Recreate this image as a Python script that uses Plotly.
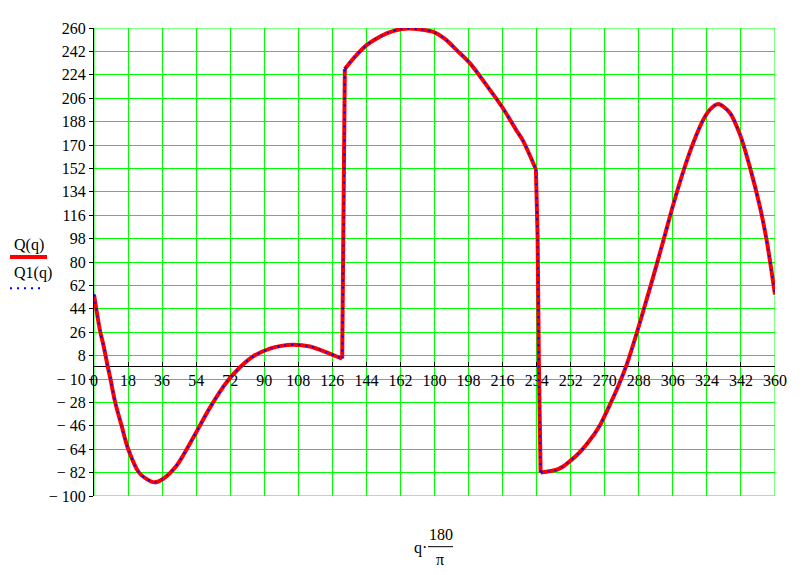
import plotly.graph_objects as go

# Curve (x in degrees: q*180/pi)
q_deg = [0, 3.2, 5, 7.2, 8.7, 11.2, 14.6, 18.1, 23.8, 27.9, 32, 36.6, 43.7, 52.5, 61.3,
         70.1, 77.2, 84.2, 93, 99, 105.4, 114.2, 123, 128, 131.2, 132, 132.6, 138, 144.1,
         149, 154.7, 160, 166, 172, 179.4, 186, 191.7, 198.8, 207, 215.5, 223.4, 226.9,
         233.6, 234.5, 235.2, 236.1, 244.6, 248, 251.6, 256, 261.3, 267.5, 272, 277,
         281.6, 286.9, 291.3, 295.7, 301, 306.3, 311.6, 316.8, 322.1, 325.6, 330, 336.2,
         341.5, 346.8, 352.1, 355.6, 360]
Q_vals = [55, 27, 16, 0, -10, -28, -46, -64, -82, -87, -89.5, -86.7, -76.5, -55, -32,
          -12.5, -1, 7.5, 13.4, 15.5, 16.4, 15, 10.5, 7.5, 5.7, 100, 228.5, 238, 246.8,
          251.5, 255.8, 258.5, 259.6, 259, 257, 251, 243, 232.8, 217, 199.8, 181, 173,
          151.3, 100, 0, -82, -79.8, -77.3, -73.2, -67.5, -58.7, -45.5, -32, -16,
          1, 25.3, 47, 69, 96.6, 124.6, 150, 171.7, 189.5, 197.2, 201.5, 194.7,
          178, 152.6, 122, 96.6, 55]
Q1_vals = list(Q_vals)

x_ticks = list(range(0, 361, 18))
y_ticks = list(range(-100, 261, 18))
y_ticktext = [("\u2212 " + str(-v)) if v < 0 else str(v) for v in y_ticks]

FONT = "Liberation Serif"
OFF = 8  # default page body margin
W, H = 807 - OFF, 575 - OFF
L, R, T, B = 94, 775, 25, 496  # plot area in screen pixels

def px(xp):
    return (xp - L) / (R - L)

def py(yp):
    return (B - yp) / (B - T)

# smooth pieces and near-vertical jumps (index ranges into the data)
i_j1 = q_deg.index(131.2)
i_j1e = q_deg.index(132.6)
i_j2 = q_deg.index(233.6)
i_j2e = q_deg.index(236.1)
pieces = [(0, i_j1, "spline"), (i_j1, i_j1e, "linear"), (i_j1e, i_j2, "spline"),
          (i_j2, i_j2e, "linear"), (i_j2e, len(q_deg) - 1, "spline")]

fig = go.Figure()
for vals, style in [(Q_vals, dict(color="#ff0000", width=4)),
                    (Q1_vals, dict(color="#0000ff", width=2, dash="2px,5px"))]:
    for a, b, shape in pieces:
        fig.add_trace(go.Scatter(x=q_deg[a:b + 1], y=vals[a:b + 1], mode="lines",
                                 line=dict(shape=shape, smoothing=0.8, **style),
                                 showlegend=False, hoverinfo="skip"))

shapes = [
    dict(type="rect", xref="x", yref="y", x0=0, x1=360, y0=-100, y1=260,
         line=dict(color="#00ff00", width=1), layer="below"),
    dict(type="line", xref="paper", yref="paper", x0=px(10), x1=px(47), y0=py(255.5), y1=py(255.5),
         line=dict(color="#ff0000", width=4)),
    dict(type="line", xref="paper", yref="paper", x0=px(10), x1=px(41), y0=py(287), y1=py(287),
         line=dict(color="#0000ff", width=2, dash="2px,5px")),
    dict(type="line", xref="paper", yref="paper", x0=px(428), x1=px(453), y0=py(547), y1=py(547),
         line=dict(color="black", width=1)),
]

annotations = [
    dict(text="Q(q)", xref="paper", yref="paper", x=px(12), y=py(243), xanchor="left", yanchor="middle",
         showarrow=False, font=dict(family=FONT, size=16, color="black")),
    dict(text="Q1(q)", xref="paper", yref="paper", x=px(12), y=py(272), xanchor="left", yanchor="middle",
         showarrow=False, font=dict(family=FONT, size=16, color="black")),
    dict(text="q\u00b7", xref="paper", yref="paper", x=px(429), y=py(548), xanchor="right", yanchor="middle",
         showarrow=False, font=dict(family=FONT, size=16, color="black")),
    dict(text="180", xref="paper", yref="paper", x=px(441), y=py(535), xanchor="center", yanchor="middle",
         showarrow=False, font=dict(family=FONT, size=16, color="black")),
    dict(text="\u03c0", xref="paper", yref="paper", x=px(440.5), y=py(560), xanchor="center", yanchor="middle",
         showarrow=False, font=dict(family=FONT, size=16, color="black")),
]

fig.update_layout(
    width=W, height=H,
    margin=dict(l=L - OFF, r=W - (R - OFF), t=T - OFF, b=H - (B - OFF), pad=0),
    paper_bgcolor="white", plot_bgcolor="white",
    font=dict(family=FONT, size=15, color="black"),
    shapes=shapes, annotations=annotations,
    xaxis=dict(range=[0, 360], tickmode="array", tickvals=x_ticks,
               ticktext=[str(v) for v in x_ticks],
               showgrid=True, gridcolor="#00ff00", gridwidth=1, zeroline=False,
               showline=True, linecolor="black", linewidth=1,
               ticks="inside", ticklen=4, tickcolor="black",
               anchor="free", position=100 / 360, layer="below traces",
               ticklabelstandoff=0,
               tickfont=dict(family=FONT, size=16, color="black")),
    yaxis=dict(range=[-100, 260], tickmode="array", tickvals=y_ticks, ticktext=y_ticktext,
               showgrid=True, gridcolor="#00ff00", gridwidth=1, zeroline=False,
               showline=True, linecolor="black", linewidth=1,
               ticks="outside", ticklen=4, tickcolor="black", layer="below traces",
               tickfont=dict(family=FONT, size=16, color="black")),
)

fig.write_html("out.html")
